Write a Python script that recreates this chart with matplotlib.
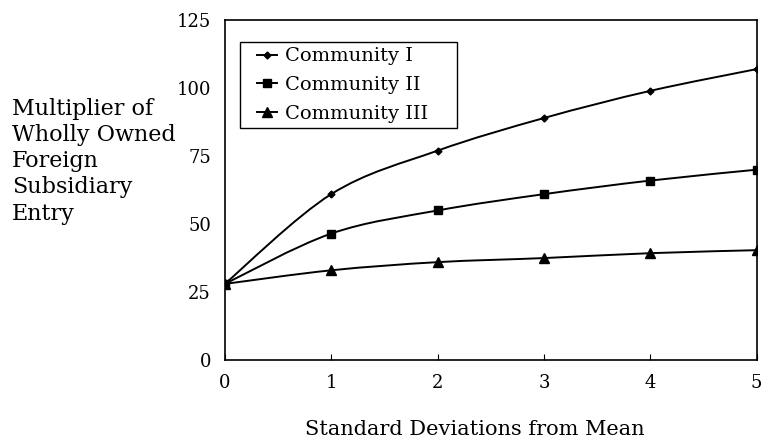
import numpy as np
import matplotlib
matplotlib.use('Agg')
import matplotlib.pyplot as plt
from matplotlib.path import Path
from matplotlib.patches import PathPatch, Rectangle
from matplotlib.lines import Line2D

# 数据
sd = [0, 1, 2, 3, 4, 5]
community_1 = [28, 61, 77, 89, 99, 107]
community_2 = [28, 46.5, 55, 61, 66, 70]
community_3 = [28, 33, 36, 37.5, 39.3, 40.4]
labels = ['Community I', 'Community II', 'Community III']
markers = ['D', 's', '^']
msizes = [3.5, 6, 6.5]

plt.rcParams['font.family'] = ['DejaVu Serif']


def smooth_path(x, y, t=0.5):
    """Excel 风格的平滑线：Catmull-Rom 转 Bezier"""
    x = np.asarray(x, float)
    y = np.asarray(y, float)
    verts = [(x[0], y[0])]
    codes = [Path.MOVETO]
    n = len(x)
    for i in range(n - 1):
        p0 = np.array([x[max(i - 1, 0)], y[max(i - 1, 0)]])
        p1 = np.array([x[i], y[i]])
        p2 = np.array([x[i + 1], y[i + 1]])
        p3 = np.array([x[min(i + 2, n - 1)], y[min(i + 2, n - 1)]])
        c1 = p1 + (p2 - p0) * t / 3
        c2 = p2 - (p3 - p1) * t / 3
        verts += [tuple(c1), tuple(c2), tuple(p2)]
        codes += [Path.CURVE4] * 3
    return Path(verts, codes)


fig = plt.figure(figsize=(7.62, 4.38), dpi=100)
ax = fig.add_axes([0.295, 0.178, 0.698, 0.776])

handles = []
for ys, lab, m, ms in zip([community_1, community_2, community_3], labels, markers, msizes):
    ax.add_patch(PathPatch(smooth_path(sd, ys), facecolor='none', edgecolor='black', lw=1.4))
    ax.plot(sd, ys, linestyle='none', marker=m, color='black', markersize=ms)
    handles.append(Line2D([], [], color='black', lw=1.4, marker=m, markersize=ms))

ax.set_xlim(0, 5)
ax.set_ylim(0, 125)
ax.set_xticks(range(6))
ax.set_yticks([0, 25, 50, 75, 100, 125])
ax.tick_params(axis='x', direction='in', length=4, pad=10, labelsize=13)
ax.tick_params(axis='y', length=0, pad=10, labelsize=13)
for s in ax.spines.values():
    s.set_linewidth(1.2)

# 图例（无框），框单独画，和原图一样右侧留白
ax.legend(handles, labels, loc='upper left', bbox_to_anchor=(0.06, 0.92),
          fontsize=14, frameon=False, handlelength=1.03, handletextpad=0.41,
          borderpad=0, labelspacing=0.55, borderaxespad=0)
ax.add_patch(Rectangle((0.028, 0.682), 0.409, 0.253, transform=ax.transAxes,
                       facecolor='none', edgecolor='black', lw=1.0, zorder=5))

fig.text(0.016, 0.777, 'Multiplier of\nWholly Owned\nForeign\nSubsidiary\nEntry',
         ha='left', va='top', fontsize=16, linespacing=1.25)
fig.text(0.623, 0.02, 'Standard Deviations from Mean', ha='center', va='center', fontsize=15)

plt.savefig('out.png', dpi=100)
